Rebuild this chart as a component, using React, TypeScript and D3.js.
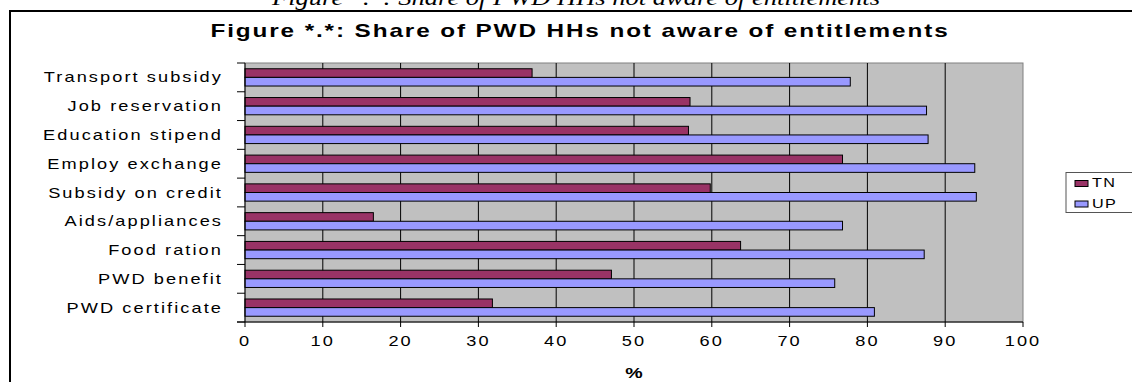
import React from "react";
import * as d3 from "d3";

const categories = [
  "Transport subsidy",
  "Job reservation",
  "Education stipend",
  "Employ exchange",
  "Subsidy on credit",
  "Aids/appliances",
  "Food ration",
  "PWD benefit",
  "PWD certificate",
];
const seriesNames = ["TN", "UP"];
const tnValues = [36.9, 57.2, 57.0, 76.8, 59.8, 16.5, 63.7, 47.1, 31.8];
const upValues = [77.8, 87.6, 87.8, 93.8, 94.0, 76.8, 87.3, 75.8, 80.9];
const xTickValues = [0, 10, 20, 30, 40, 50, 60, 70, 80, 90, 100];

const colors: Record<string, string> = { TN: "#993366", UP: "#9999FF" };
const FONT = "'Liberation Sans', Arial, sans-serif";
const SX = 1.3;

function SText(props: {
  x: number;
  y: number;
  anchor?: string;
  size: number;
  bold?: boolean;
  sx?: number;
  ls?: number;
  children: React.ReactNode;
}) {
  const { x, y, anchor = "start", size, bold, sx = SX, ls = 1.6, children } = props;
  return (
    <g transform={`translate(${x},${y}) scale(${sx},1)`}>
      <text
        x={0}
        y={0}
        textAnchor={anchor}
        fontFamily={FONT}
        fontSize={size}
        fontWeight={bold ? "bold" : "normal"}
        letterSpacing={ls}
        fill="#000"
      >
        {children}
      </text>
    </g>
  );
}

export default function App() {
  const left = 245,
    right = 1023,
    top = 63,
    bottom = 322;
  const x = d3.scaleLinear().domain([0, 100]).range([left, right]);
  const y = d3
    .scaleBand<string>()
    .domain(categories)
    .range([top, bottom])
    .paddingInner(0.4)
    .paddingOuter(0.2);
  const sub = d3
    .scaleBand<string>()
    .domain(seriesNames)
    .range([0, y.bandwidth()]);
  const step = y.step();
  const values: Record<string, number[]> = { TN: tnValues, UP: upValues };

  return (
    <svg
      width={1132}
      height={382}
      style={{ position: "absolute", left: 0, top: 0, background: "#fff" }}
    >
      <rect x={0} y={0} width={1132} height={382} fill="#fff" />
      {/* document caption, clipped at top as in the source */}
      <text
        x={272}
        y={5}
        fontFamily="'Liberation Serif', 'Times New Roman', serif"
        fontStyle="italic"
        fontSize={22}
        textLength={608}
        lengthAdjust="spacingAndGlyphs"
        fill="#000"
      >
        Figure *.*: Share of PWD HHs not aware of entitlements
      </text>
      {/* chart frame */}
      <rect x={10} y={11} width={2000} height={1000} fill="#fff" stroke="#000" strokeWidth={2} />
      {/* title */}
      <SText x={580} y={37} anchor="middle" size={18} bold sx={1.35} ls={1.4}>
        Figure *.*: Share of PWD HHs not aware of entitlements
      </SText>
      {/* plot area */}
      <rect x={left} y={top} width={right - left} height={bottom - top} fill="#C0C0C0" stroke="#808080" strokeWidth={1} />
      {xTickValues
        .filter((t) => t > 0 && t < 100)
        .map((t) => (
          <line key={t} x1={x(t)} x2={x(t)} y1={top} y2={bottom} stroke="#000" strokeWidth={1} />
        ))}
      {/* bars */}
      {categories.map((c, i) =>
        seriesNames.map((s) => (
          <rect
            key={c + s}
            x={x(0)}
            y={(y(c) as number) + (sub(s) as number)}
            width={x(values[s][i]) - x(0)}
            height={sub.bandwidth()}
            fill={colors[s]}
            stroke="#000"
            strokeWidth={1}
          />
        ))
      )}
      {/* axes */}
      <line x1={left} x2={left} y1={top} y2={bottom} stroke="#000" strokeWidth={1} />
      <line x1={left - 8} x2={right} y1={bottom} y2={bottom} stroke="#000" strokeWidth={1} />
      {d3.range(categories.length + 1).map((i) => (
        <line key={i} x1={left - 8} x2={left} y1={top + i * step} y2={top + i * step} stroke="#000" strokeWidth={1} />
      ))}
      {xTickValues.map((t) => (
        <g key={t}>
          <line x1={x(t)} x2={x(t)} y1={bottom} y2={bottom + 5} stroke="#000" strokeWidth={1} />
          <SText x={x(t)} y={346} anchor="middle" size={14}>
            {t}
          </SText>
        </g>
      ))}
      {categories.map((c) => (
        <SText key={c} x={223} y={(y(c) as number) + y.bandwidth() / 2 + 5} anchor="end" size={14}>
          {c}
        </SText>
      ))}
      <SText x={635} y={378} anchor="middle" size={14} bold sx={1.4}>
        %
      </SText>
      {/* legend */}
      <rect x={1066} y={172.5} width={200} height={40} fill="#fff" stroke="#555" strokeWidth={1} />
      {seriesNames.map((s, i) => (
        <g key={s}>
          <rect x={1075} y={180.5 + i * 20.5} width={13} height={6} fill={colors[s]} stroke="#000" strokeWidth={1} />
          <SText x={1092} y={187 + i * 20.5} size={12} sx={1.35} ls={1}>
            {s}
          </SText>
        </g>
      ))}
    </svg>
  );
}
